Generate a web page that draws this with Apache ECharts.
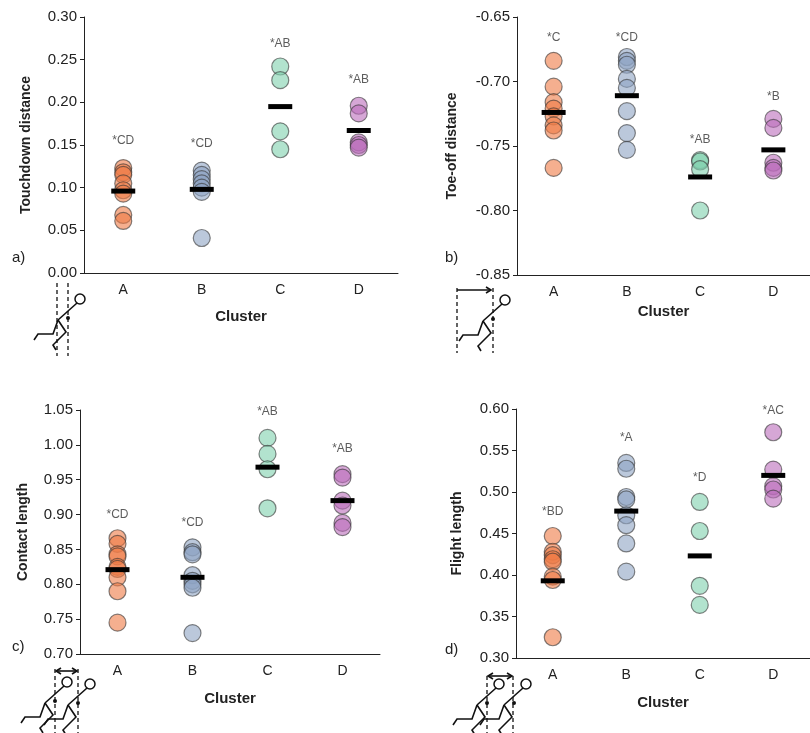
<!DOCTYPE html>
<html>
<head>
<meta charset="utf-8">
<script src="https://cdn.jsdelivr.net/npm/echarts@6/dist/echarts.min.js"></script>
<style>
  html, body { margin: 0; padding: 0; background: #fff; }
  #chart { width: 810px; height: 733px; }
</style>
</head>
<body>
<div id="chart"></div>
<script>
// clusters on the x axis
var clusters = ['A', 'B', 'C', 'D'];
var clusterColors = ['#ef7a45', '#8ea3c3', '#7fd0ae', '#bb6cbb'];

// a) touchdown distance
var touchdownPts = [
    [0.123, 0.118, 0.115, 0.105, 0.097, 0.093, 0.068, 0.061],
    [0.120, 0.115, 0.110, 0.105, 0.100, 0.095, 0.041],
    [0.242, 0.226, 0.166, 0.145],
    [0.196, 0.187, 0.153, 0.150, 0.147]
];
var touchdownMean = [0.096, 0.098, 0.195, 0.167];
var touchdownSig = ['*CD', '*CD', '*AB', '*AB'];
var touchdownSigY = [0.155, 0.151, 0.269, 0.227];

// b) toe-off distance
var toeoffPts = [
    [-0.684, -0.704, -0.716, -0.721, -0.727, -0.734, -0.738, -0.767],
    [-0.681, -0.684, -0.687, -0.698, -0.705, -0.723, -0.740, -0.753],
    [-0.761, -0.762, -0.768, -0.800],
    [-0.729, -0.736, -0.763, -0.767, -0.769]
];
var toeoffMean = [-0.724, -0.711, -0.774, -0.753];
var toeoffSig = ['*C', '*CD', '*AB', '*B'];
var toeoffSigY = [-0.666, -0.666, -0.745, -0.712];

// c) contact length
var contactPts = [
    [0.866, 0.858, 0.843, 0.840, 0.825, 0.822, 0.810, 0.790, 0.745],
    [0.853, 0.846, 0.843, 0.813, 0.805, 0.800, 0.795, 0.730],
    [1.010, 0.987, 0.965, 0.909],
    [0.958, 0.953, 0.920, 0.913, 0.888, 0.882]
];
var contactMean = [0.821, 0.810, 0.968, 0.920];
var contactSig = ['*CD', '*CD', '*AB', '*AB'];
var contactSigY = [0.900, 0.888, 1.047, 0.995];

// d) flight length
var flightPts = [
    [0.447, 0.428, 0.424, 0.419, 0.416, 0.398, 0.394, 0.325],
    [0.535, 0.528, 0.494, 0.491, 0.472, 0.460, 0.438, 0.404],
    [0.488, 0.453, 0.387, 0.364],
    [0.572, 0.527, 0.507, 0.503, 0.492]
];
var flightMean = [0.393, 0.477, 0.423, 0.520];
var flightSig = ['*BD', '*A', '*D', '*AC'];
var flightSigY = [0.476, 0.566, 0.517, 0.598];

var panels = [
    {pts: touchdownPts, mean: touchdownMean, sig: touchdownSig, sigY: touchdownSigY,
     name: 'Touchdown distance', min: 0, max: 0.30, interval: 0.05,
     grid: {left: 84, top: 17, width: 314, height: 256}, nameGap: 51, xGap: 36},
    {pts: toeoffPts, mean: toeoffMean, sig: toeoffSig, sigY: toeoffSigY,
     name: 'Toe-off distance', min: -0.85, max: -0.65, interval: 0.05,
     grid: {left: 517, top: 17, width: 296, height: 258}, nameGap: 58, xGap: 29},
    {pts: contactPts, mean: contactMean, sig: contactSig, sigY: contactSigY,
     name: 'Contact length', min: 0.70, max: 1.05, interval: 0.05,
     grid: {left: 80, top: 410, width: 300, height: 244}, nameGap: 50, xGap: 37},
    {pts: flightPts, mean: flightMean, sig: flightSig, sigY: flightSigY,
     name: 'Flight length', min: 0.30, max: 0.60, interval: 0.05,
     grid: {left: 516, top: 409, width: 300, height: 249}, nameGap: 52, xGap: 37}
];

var font = '"Liberation Sans", Arial, sans-serif';
var option = {
    backgroundColor: '#fff',
    animation: false,
    grid: [], xAxis: [], yAxis: [], series: [], graphic: []
};

panels.forEach(function (p, i) {
    option.grid.push(p.grid);
    option.xAxis.push({
        type: 'category', gridIndex: i, data: clusters,
        name: 'Cluster', nameLocation: 'middle', nameGap: p.xGap,
        nameTextStyle: {fontFamily: font, fontWeight: 'bold', fontSize: 15, color: '#222'},
        axisLine: {lineStyle: {color: '#222', width: 1}},
        axisTick: {show: false},
        axisLabel: {fontFamily: font, fontSize: 14, color: '#222', margin: 10}
    });
    option.yAxis.push({
        type: 'value', gridIndex: i, min: p.min, max: p.max, interval: p.interval,
        name: p.name, nameLocation: 'middle', nameGap: p.nameGap,
        nameTextStyle: {fontFamily: font, fontWeight: 'bold', fontSize: 14, color: '#222'},
        axisLine: {show: true, lineStyle: {color: '#222', width: 1}},
        axisTick: {show: true, length: 4, lineStyle: {color: '#222'}},
        splitLine: {show: false},
        axisLabel: {fontFamily: font, fontSize: 15, color: '#222', margin: 7,
            formatter: function (v) { return v.toFixed(2); }}
    });
    p.pts.forEach(function (vals, c) {
        option.series.push({
            type: 'scatter', xAxisIndex: i, yAxisIndex: i,
            symbolSize: 17,
            itemStyle: {color: clusterColors[c], opacity: 0.6,
                borderColor: '#333', borderWidth: 1.2},
            data: vals.map(function (v) { return [c, v]; })
        });
    });
    option.series.push({
        type: 'scatter', xAxisIndex: i, yAxisIndex: i, z: 5,
        symbol: 'rect', symbolSize: [24, 5],
        itemStyle: {color: '#000', opacity: 1},
        data: p.mean.map(function (v, c) { return [c, v]; })
    });
    option.series.push({
        type: 'scatter', xAxisIndex: i, yAxisIndex: i, symbolSize: 0,
        label: {show: true, position: 'inside', fontFamily: font, fontSize: 12, color: '#333',
            formatter: function (d) { return p.sig[d.dataIndex]; }},
        data: p.sigY.map(function (v, c) { return [c, v]; })
    });
});

// panel letters
[['a)', 12, 250], ['b)', 445, 250], ['c)', 12, 639], ['d)', 445, 642]].forEach(function (t) {
    option.graphic.push({type: 'text', left: t[1], top: t[2],
        style: {text: t[0], font: '15px ' + font, fill: '#222'}});
});

// little runner drawings under the axes
function dash(x1, y1, x2, y2) {
    option.graphic.push({type: 'line', shape: {x1: x1, y1: y1, x2: x2, y2: y2},
        style: {stroke: '#111', lineWidth: 1.3, lineDash: [4, 3]}});
}
function line(pts) {
    option.graphic.push({type: 'polyline', shape: {points: pts},
        style: {stroke: '#111', lineWidth: 1.6, fill: null}});
}
function runner(x, y) {
    option.graphic.push({type: 'circle', shape: {cx: x + 12, cy: y - 19, r: 5},
        style: {stroke: '#111', lineWidth: 1.5, fill: '#fff'}});
    line([[x + 9, y - 15], [x - 10, y + 2]]);
    line([[x - 10, y + 2], [x - 15, y + 16], [x - 30, y + 16], [x - 34, y + 22]]);
    line([[x - 10, y + 2], [x - 2, y + 14], [x - 15, y + 27], [x - 12, y + 32]]);
    option.graphic.push({type: 'circle', shape: {cx: x, cy: y, r: 2}, style: {fill: '#111'}});
}
function arrow(x1, x2, y, both) {
    line([[x1, y], [x2, y]]);
    line([[x2 - 5, y - 3], [x2, y], [x2 - 5, y + 3]]);
    if (both) line([[x1 + 5, y - 3], [x1, y], [x1 + 5, y + 3]]);
}

dash(57, 283, 57, 356); dash(68, 283, 68, 356);
runner(68, 318);

dash(457, 288, 457, 353); dash(493, 288, 493, 353);
arrow(457, 491, 290, false);
runner(493, 319);

dash(55, 669, 55, 733); dash(78, 669, 78, 733);
arrow(56, 77, 671, true);
runner(55, 701); runner(78, 703);

dash(487, 676, 487, 733); dash(513, 676, 513, 733);
arrow(488, 512, 676, true);
runner(487, 703); runner(514, 703);

var chart = echarts.init(document.getElementById('chart'));
chart.setOption(option);
</script>
</body>
</html>
